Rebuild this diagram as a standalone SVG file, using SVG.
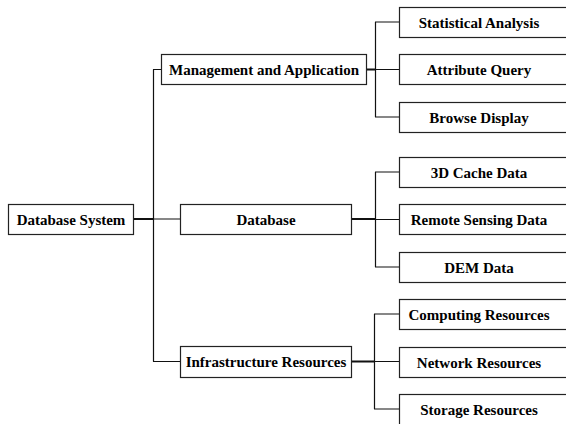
<svg xmlns="http://www.w3.org/2000/svg" width="566" height="424" viewBox="0 0 566 424">
<style>
.box{fill:#fff;stroke:#222;stroke-width:1.2}
.t{font-family:"Liberation Serif","Times New Roman",serif;font-weight:bold;font-size:15px;fill:#000;text-anchor:middle;dominant-baseline:central}
.c{fill:none;stroke:#111;stroke-width:1.2}
.ct{fill:none;stroke:#111;stroke-width:2}
</style>
<rect width="566" height="424" fill="#fff"/>
<g id="connectors">
<path class="ct" d="M133.5 219H153"/>
<path class="c" d="M153.5 69.5V361.5M153 69.5H161M153 219H180M153 361.5H180"/>
<path class="ct" d="M366 69.5H375M351 219H375M351 361.5H374"/>
<path class="c" d="M375.5 22V117M375 22H399M375 69.5H399M375 117H399"/>
<path class="c" d="M375.5 172V267M375 172H399M375 219.5H399M375 267H399"/>
<path class="c" d="M374.5 314V409M374 314H399M374 361.5H399M374 409H399"/>
</g>
<g id="database-system"><rect class="box" x="8.5" y="204.5" width="125" height="30"/><text class="t" x="71" y="219.5">Database System</text></g>
<g id="management"><rect class="box" x="161.5" y="54.5" width="205" height="30"/><text class="t" x="264" y="69.5">Management and Application</text></g>
<g id="database"><rect class="box" x="180.5" y="204.5" width="171" height="30"/><text class="t" x="266" y="219.5">Database</text></g>
<g id="infrastructure"><rect class="box" x="180.5" y="346.5" width="171" height="31"/><text class="t" x="266" y="362">Infrastructure Resources</text></g>
<g id="statistical-analysis"><rect class="box" x="399.5" y="7.5" width="172" height="30"/><text class="t" x="479" y="22.5">Statistical Analysis</text></g>
<g id="attribute-query"><rect class="box" x="399.5" y="54.5" width="172" height="30"/><text class="t" x="479" y="69.5">Attribute Query</text></g>
<g id="browse-display"><rect class="box" x="399.5" y="102.5" width="172" height="30"/><text class="t" x="479" y="117.5">Browse Display</text></g>
<g id="cache-data"><rect class="box" x="399.5" y="157.5" width="172" height="30"/><text class="t" x="479" y="172.5">3D Cache Data</text></g>
<g id="remote-sensing"><rect class="box" x="399.5" y="204.5" width="172" height="30"/><text class="t" x="479" y="219.5">Remote Sensing Data</text></g>
<g id="dem-data"><rect class="box" x="399.5" y="252.5" width="172" height="30"/><text class="t" x="479" y="267.5">DEM Data</text></g>
<g id="computing"><rect class="box" x="399.5" y="299.5" width="172" height="30"/><text class="t" x="479" y="314.5">Computing Resources</text></g>
<g id="network"><rect class="box" x="399.5" y="347.5" width="172" height="30"/><text class="t" x="479" y="362.5">Network Resources</text></g>
<g id="storage"><rect class="box" x="399.5" y="394.5" width="172" height="31"/><text class="t" x="479" y="410">Storage Resources</text></g>
</svg>
